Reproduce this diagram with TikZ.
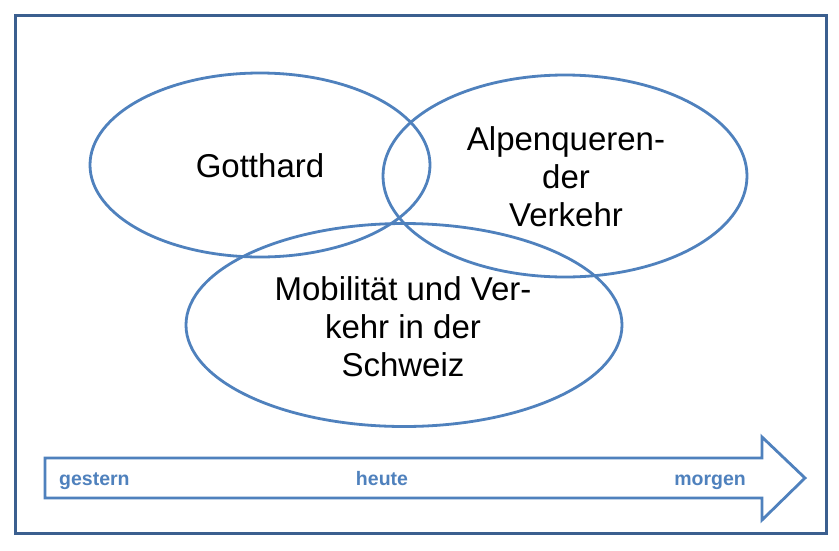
\documentclass[tikz,border=0pt]{standalone}
\usepackage{fontspec}
\setmainfont{Liberation Sans}
\usetikzlibrary{shapes.geometric}
\definecolor{framec}{HTML}{3B5F8F}
\definecolor{ellc}{HTML}{4F81BD}
\tikzset{
  venn/.style={ellipse, draw=ellc, line width=2.8pt, inner sep=0pt},
  venntext/.style={align=center, font=\fontsize{33}{38}\selectfont, text=black},
  timelabel/.style={font=\bfseries\fontsize{19.5}{22}\selectfont, text=ellc, inner sep=0pt},
}
\begin{document}
\begin{tikzpicture}[x=1pt,y=-1pt]
\useasboundingbox (0,0) rectangle (839,550);
\fill[white] (0,0) rectangle (839,550);
\node[draw=framec, line width=3pt, minimum width=811pt, minimum height=518pt, inner sep=0pt] (frame) at (420.5,274) {};
\node[venn, minimum width=340pt, minimum height=184pt] (e1) at (260,165) {};
\node[venn, minimum width=364pt, minimum height=202pt] (e2) at (565,176) {};
\node[venn, minimum width=436pt, minimum height=203pt] (e3) at (404,325) {};
\node[venntext] (t1) at (260,166) {Gotthard};
\node[venntext] (t2) at (566,177) {Alpenqueren-\\der\\Verkehr};
\node[venntext] (t3) at (403,327) {Mobilität und Ver-\\kehr in der\\Schweiz};
\draw[ellc, line width=2.8pt, line join=miter]
  (45,458) -- (762,458) -- (762,437) -- (805,478) -- (762,520) -- (762,498) -- (45,498) -- cycle;
\node[timelabel, anchor=base west] (g) at (59,485) {gestern};
\node[timelabel, anchor=base] (h) at (382,485) {heute};
\node[timelabel, anchor=base east] (m) at (746,485) {morgen};
\end{tikzpicture}
\end{document}
